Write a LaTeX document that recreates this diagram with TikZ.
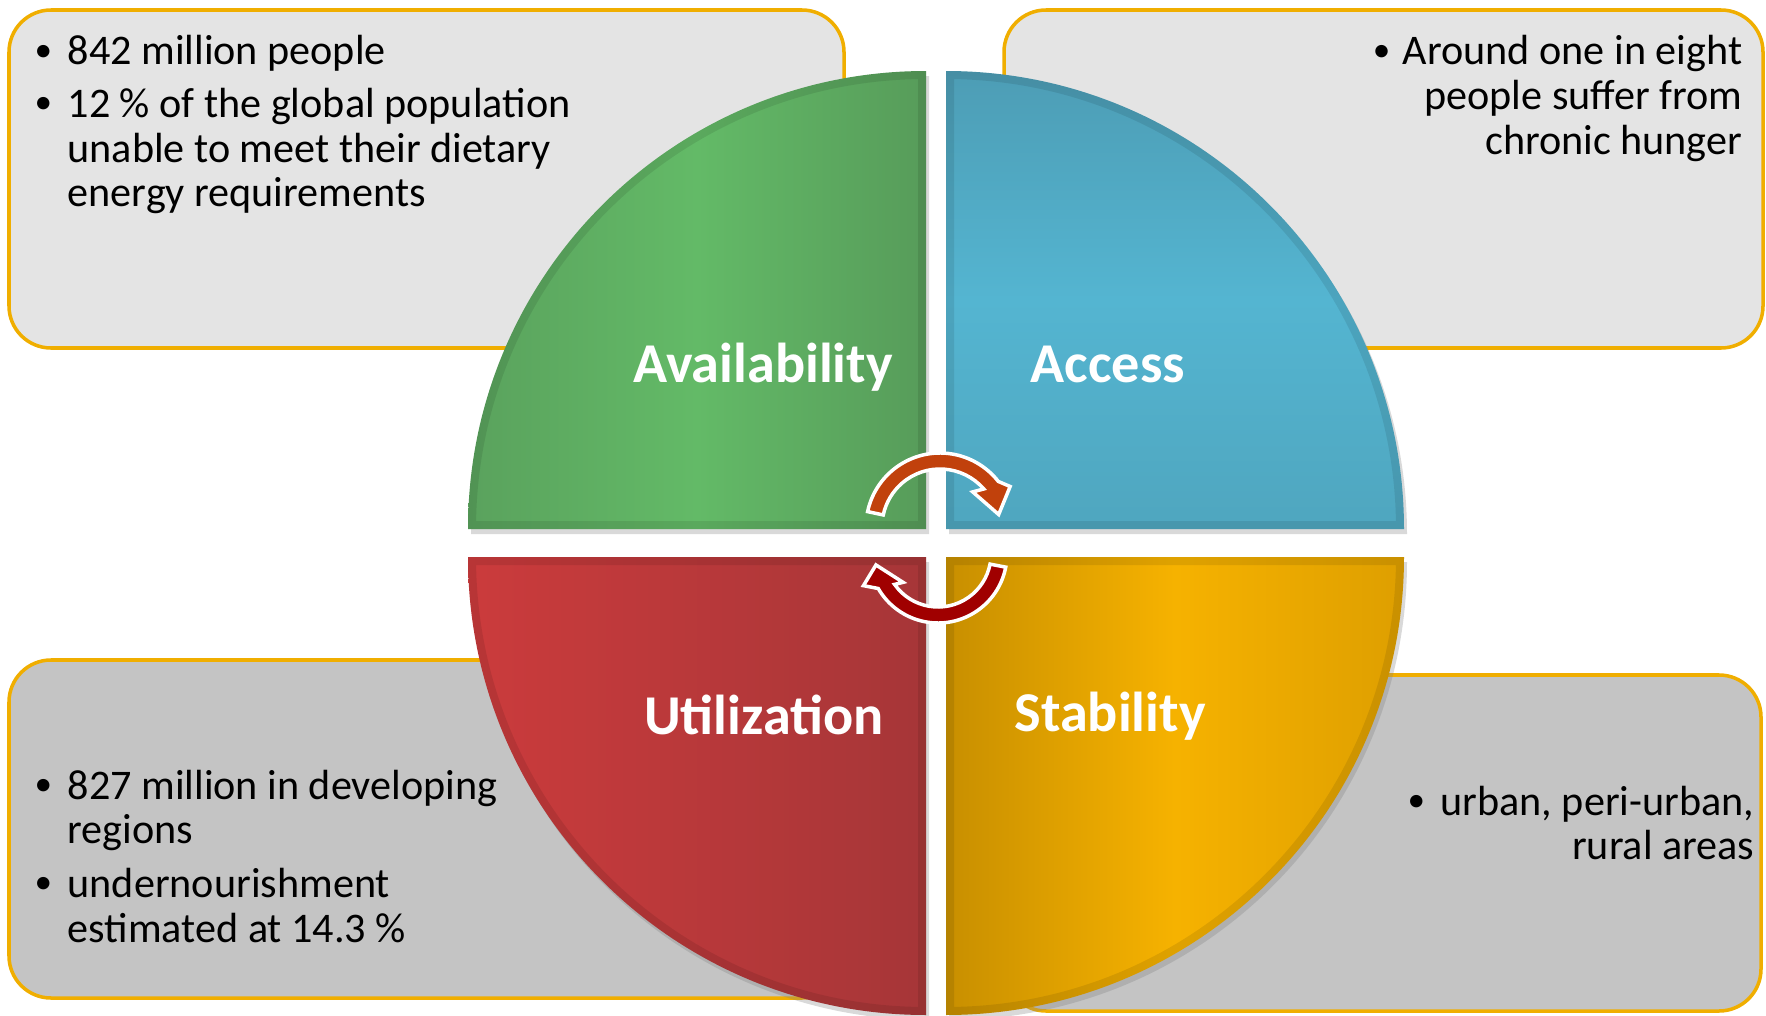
\documentclass[tikz,border=0pt]{standalone}
\usepackage{fontspec}
\setmainfont{Carlito}
\usetikzlibrary{positioning,calc,shadows}

\definecolor{boxedge}{HTML}{F0AE00}
\definecolor{boxlight}{HTML}{E4E4E4}
\definecolor{boxdark}{HTML}{C4C4C4}
\definecolor{turnA}{HTML}{C1410C}
\definecolor{turnB}{HTML}{A00000}
% quarter colours: edge, centre, other edge
\definecolor{availA}{HTML}{5AA25D}
\definecolor{availB}{HTML}{63BA67}
\definecolor{availC}{HTML}{579C5A}
\definecolor{accessA}{HTML}{4D9DB5}
\definecolor{accessB}{HTML}{54B5D1}
\definecolor{accessC}{HTML}{4FA6BF}
\definecolor{stabA}{HTML}{C88F00}
\definecolor{stabB}{HTML}{F6B200}
\definecolor{stabC}{HTML}{DE9F00}
\definecolor{utilA}{HTML}{CB3B3C}
\definecolor{utilC}{HTML}{A63638}

% smaller bullet like the slide font
\newcommand{\dotitem}{\raisebox{0.08em}{\fontsize{10}{10}\selectfont •}}

\begin{document}
\begin{tikzpicture}[
    infobox/.style={draw=boxedge,line width=1pt,rounded corners=0.42cm},
    quad/.style={drop shadow={shadow xshift=0.03cm,shadow yshift=-0.05cm,opacity=0.3}},
    avail/.style={left color=availA,right color=availC,middle color=availB},
    access/.style={top color=accessA,bottom color=accessC,middle color=accessB},
    stab/.style={left color=stabA,right color=stabC,middle color=stabB},
    util/.style={left color=utilA,right color=utilC},
    quadtitle/.style={text=white,font=\fontsize{16}{18}\selectfont\bfseries,anchor=base,inner sep=0pt},
    note/.style={font=\fontsize{12}{12.8}\selectfont,inner sep=0pt},
    cyc/.style={draw=white,line width=0.035cm,line join=miter}
]

\def \R {4.58} % radius of one quarter

\useasboundingbox (0,0) rectangle (17.66,10.15);

% boxes behind the circle
\draw[infobox,fill=boxlight] (0.09,6.67) rectangle (8.44,10.05);
\draw[infobox,fill=boxlight] (10.04,6.67) rectangle (17.63,10.05);
\draw[infobox,fill=boxdark] (0.09,0.17) rectangle (8.44,3.55);
\draw[infobox,fill=boxdark] (10.04,0.04) rectangle (17.61,3.40);

% the four quarters, with a darker rim inside
\foreach \q/\cx/\cy/\a/\b in {avail/9.26/4.86/180/90, access/9.46/4.86/0/90, stab/9.46/4.58/0/-90, util/9.26/4.58/180/270} {
    \path[quad,\q] (\cx,\cy) -- ++(\a:\R) arc[start angle=\a,end angle=\b,radius=\R] -- cycle;
    \begin{scope}
        \clip (\cx,\cy) -- ++(\a:\R) arc[start angle=\a,end angle=\b,radius=\R] -- cycle;
        \draw[line width=0.16cm,black,opacity=0.09] (\cx,\cy) -- ++(\a:\R) arc[start angle=\a,end angle=\b,radius=\R] -- cycle;
    \end{scope}
}

% quarter titles
\node[quadtitle] (availability) at (7.63,6.33) {Availability};
\node[quadtitle] (access) at (11.08,6.33) {Access};
\node[quadtitle] (utilization) at (7.64,2.81) {Utilization};
\node[quadtitle] (stability) at (11.10,2.84) {Stability};

% turning arrows in the middle
\coordinate (turn1) at (9.40,4.88);
\coordinate (turn2) at (9.38,4.61);
\filldraw[cyc,fill=turnA] ($(turn1)+(168:0.74)$) arc[start angle=168,end angle=38,radius=0.74]
    -- ($(turn1)+(30:0.81)$) -- ($(turn1)+(12:0.60)$) -- ($(turn1)+(47:0.48)$)
    -- ($(turn1)+(41:0.58)$) arc[start angle=41,end angle=168,radius=0.58] -- cycle;
\filldraw[cyc,fill=turnB] ($(turn2)+(-11:0.69)$) arc[start angle=-11,end angle=-150,radius=0.69]
    -- ($(turn2)+(-157:0.81)$) -- ($(turn2)+(-170:0.63)$) -- ($(turn2)+(-141:0.45)$)
    -- ($(turn2)+(-145:0.53)$) arc[start angle=-145,end angle=-11,radius=0.53] -- cycle;

% box texts
\node[note,anchor=base west] (availnote) at (0.34,9.50) {\begin{tabular}[t]{@{}p{0.33cm}@{}l@{}}
    \dotitem & 842 million people\\[2pt]
    \dotitem & 12 \% of the global population\\
      & unable to meet their dietary\\
      & energy requirements
\end{tabular}};
\node[note,anchor=base east] (accessnote) at (17.43,9.50) {\begin{tabular}[t]{@{}p{0.30cm}@{}r@{}}
    \dotitem & Around one in eight\\
      & people suffer from\\
      & chronic hunger
\end{tabular}};
\node[note,anchor=base west] (utilnote) at (0.34,2.16) {\begin{tabular}[t]{@{}p{0.33cm}@{}l@{}}
    \dotitem & 827 million in developing\\
      & regions\\[2.3pt]
    \dotitem & undernourishment\\
      & estimated at 14.3 \%
\end{tabular}};
\node[note,anchor=base east] (stabnote) at (17.55,2.00) {\begin{tabular}[t]{@{}p{0.33cm}@{}r@{}}
    \dotitem & urban, peri-urban,\\
      & rural areas
\end{tabular}};

\end{tikzpicture}
\end{document}
